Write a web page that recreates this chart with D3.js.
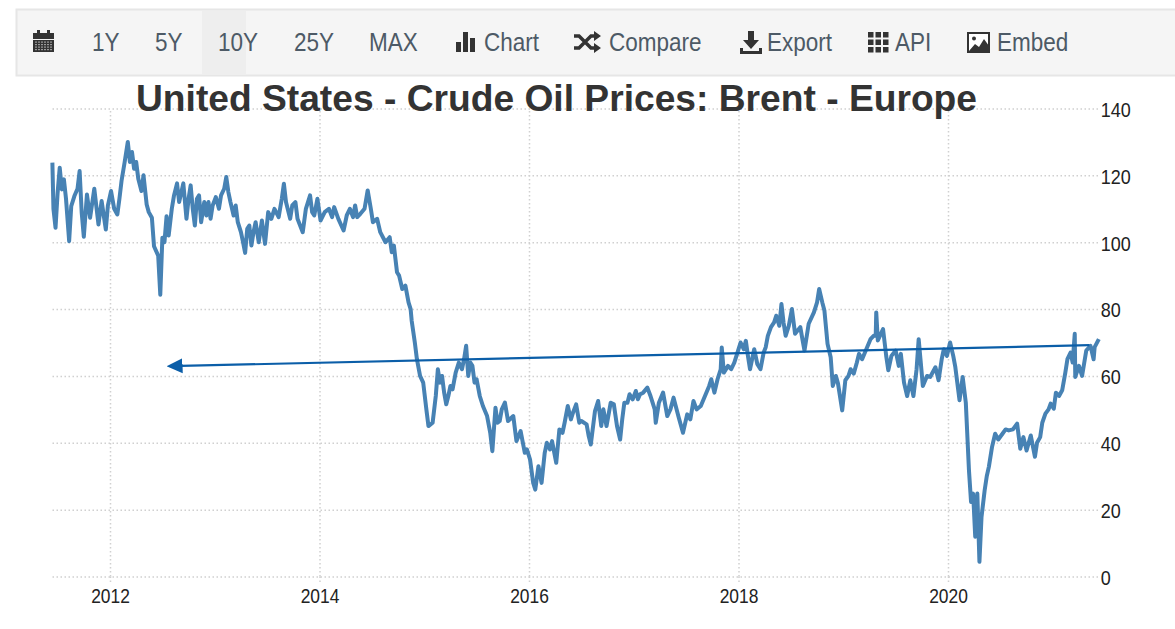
<!DOCTYPE html>
<html>
<head>
<meta charset="utf-8">
<title>Crude Oil Prices: Brent - Europe</title>
<script src="https://cdn.jsdelivr.net/npm/d3@7"></script>
<style>
  html, body { margin: 0; padding: 0; background: #fff; overflow: hidden; }
  text { font-family: "Liberation Sans", Arial, sans-serif; }
  .tick text { font-size: 20px; fill: #222; }
  .tick line { stroke: #d0d0d0; stroke-width: 1.5; stroke-dasharray: 1.5 2.5; }
  .domain { display: none; }
</style>
</head>
<body>
<div class="chart"></div>
<script>
// Values, one line per calendar year
const years = [
  2011.45,2011.46,2011.48,2011.50,2011.52,2011.54,2011.56,2011.58,2011.61,2011.63,2011.66,2011.69,2011.71,2011.73,2011.75,2011.78,2011.81,2011.85,2011.89,2011.92,2011.96,2011.98,
  2012.01,2012.04,2012.07,2012.09,2012.11,2012.14,2012.17,2012.19,2012.21,2012.23,2012.25,2012.27,2012.30,2012.32,2012.35,2012.37,2012.40,2012.42,2012.46,2012.48,2012.50,2012.52,2012.54,2012.56,2012.59,2012.61,2012.64,2012.66,2012.70,2012.73,2012.75,2012.77,2012.79,2012.81,2012.83,2012.85,2012.87,2012.90,2012.92,2012.94,2012.96,2012.98,
  2013.01,2013.04,2013.06,2013.09,2013.11,2013.13,2013.15,2013.18,2013.20,2013.22,2013.25,2013.27,2013.29,2013.31,2013.33,2013.35,2013.37,2013.39,2013.42,2013.45,2013.48,2013.51,2013.54,2013.57,2013.61,2013.64,2013.66,2013.68,2013.72,2013.74,2013.77,2013.79,2013.84,2013.87,2013.91,2013.93,2013.95,2013.98,
  2014.01,2014.05,2014.09,2014.12,2014.14,2014.18,2014.23,2014.26,2014.29,2014.32,2014.34,2014.36,2014.39,2014.43,2014.46,2014.49,2014.51,2014.55,2014.58,2014.63,2014.67,2014.69,2014.71,2014.74,2014.76,2014.79,2014.82,2014.85,2014.87,2014.88,2014.91,2014.93,2014.96,2014.99,
  2015.02,2015.04,2015.08,2015.11,2015.13,2015.15,2015.17,2015.19,2015.21,2015.23,2015.25,2015.27,2015.30,2015.33,2015.36,2015.38,2015.40,2015.42,2015.44,2015.46,2015.48,2015.50,2015.53,2015.56,2015.60,2015.63,2015.65,2015.68,2015.70,2015.72,2015.74,2015.77,2015.80,2015.85,2015.88,2015.92,2015.96,2015.98,
  2016.01,2016.04,2016.06,2016.09,2016.12,2016.15,2016.17,2016.20,2016.22,2016.26,2016.29,2016.32,2016.34,2016.37,2016.40,2016.42,2016.45,2016.48,2016.50,2016.55,2016.57,2016.59,2016.63,2016.66,2016.69,2016.71,2016.74,2016.78,2016.81,2016.84,2016.87,2016.89,2016.91,2016.94,2016.96,2016.99,
  2017.02,2017.04,2017.06,2017.09,2017.13,2017.16,2017.18,2017.20,2017.21,2017.24,2017.28,2017.32,2017.35,2017.38,2017.43,2017.47,2017.51,2017.54,2017.57,2017.60,2017.64,2017.68,2017.72,2017.74,2017.77,2017.80,2017.83,2017.84,2017.86,2017.90,2017.93,2017.96,2017.99,
  2018.02,2018.05,2018.07,2018.09,2018.11,2018.15,2018.18,2018.21,2018.24,2018.26,2018.28,2018.31,2018.34,2018.36,2018.39,2018.41,2018.43,2018.45,2018.48,2018.51,2018.54,2018.59,2018.61,2018.63,2018.67,2018.72,2018.75,2018.77,2018.80,2018.82,2018.85,2018.88,2018.90,2018.93,2018.95,2018.99,
  2019.02,2019.05,2019.07,2019.10,2019.13,2019.15,2019.18,2019.22,2019.26,2019.29,2019.31,2019.315,2019.33,2019.35,2019.38,2019.41,2019.43,2019.46,2019.50,2019.53,2019.55,2019.58,2019.61,2019.64,2019.67,2019.70,2019.72,2019.76,2019.80,2019.83,2019.88,2019.91,2019.94,2019.96,2019.99,
  2020.02,2020.05,2020.07,2020.11,2020.14,2020.17,2020.20,2020.22,2020.24,2020.26,2020.28,2020.30,2020.32,2020.35,2020.37,2020.39,2020.42,2020.45,2020.48,2020.52,2020.55,2020.58,2020.62,2020.66,2020.69,2020.72,2020.75,2020.79,2020.83,2020.85,2020.88,2020.90,2020.93,2020.96,2020.98,
  2021.01,2021.03,2021.06,2021.09,2021.12,2021.14,2021.17,2021.19,2021.21,2021.215,2021.25,2021.28,2021.32,2021.36,2021.39,2021.40,2021.44
];
const prices = [
  123.8,110,104.3,114.8,122.3,115.8,118.8,113,100.3,110.8,113.8,116,121.3,108.8,101.6,114.3,107.3,116,105.3,112.3,103.8,111,
  115.3,110,108.3,113,118.3,124,130,124,127,122,124,119,115.3,120,111.3,109,107.3,98.8,96,84.3,101.3,100,107.8,102,110,113.8,117.6,112,117.6,107,113,117,110,105,113,114,106,112,108,112,107,111,
  113.5,110,114,116,119.5,115,112,108,111,106,103,100,96.8,104,105,99,103,106,100,106.5,99.5,109,107,110,107.5,113,117.5,112,107,111,112,107,103,110,114,109,108,113,
  106.5,109,110,107.5,110.5,107,103.5,108,110,107.5,111,107.5,108.5,110,115.5,110,106,107,103,100,101.5,97,99,91,90,86,87,82,80,76.5,70,65,60,58,
  50,45,46,54,62,58,60,55,51.5,54,57,56,61,64,62,65,69,60,64,63,58,59,54,51,48,43,37.5,50.5,46,46.5,50,52,46.5,48,40.5,43.5,37,38,
  35,28,26,33,28,37,40,38,40.5,34,44,43,46,51,47,49,51.5,46,46.5,45.5,42,39.5,49.5,52.5,45,50,45,52,51.5,45,41,47,52,52,54.5,53,
  55.5,53,54.5,55,56.5,54,52,50,46,52,55,48,50,53.5,47.5,43,48.5,47,52.5,50,51,54,57,59,55,59,62,68.5,61,63,62,64,67,
  70,68,70.5,66,62,68,63.5,62,67,68.6,72,74.6,76,78,75,81.5,76,72,75,80,72.6,74.6,71,67.6,75.6,79,82,86,82,79.6,69.6,65.6,57,60,57.7,49.7,
  58.7,60,62,60.7,64,66.6,65,68,71,72,72,79,70.6,72,74,66,61.7,66,67.6,63,66.6,58,54,58.7,54,62,71,57,60,59.7,62.6,58.7,65,68,66,
  70,66,62.6,52.7,59.7,52,31.8,22.3,24.8,11.9,24.8,4.4,17.8,25.8,30,32.8,38.7,42.7,41,42.7,44,43.7,44,45.7,38.2,41.7,37.7,42.2,35.8,40,41.7,46,48.7,50,51.7,
  50.2,55,54,55.7,61,65,67,64,72.6,59.7,63,60,67.6,69,65,68.6,71
];
const yearTicks = [2012, 2014, 2016, 2018, 2020];
const priceTicks = [0, 20, 40, 60, 80, 100, 120, 140];
const arrowYears = [2021.35, 2012.54];
const arrowPrices = [69.2, 63];
const rangeLabels = ["1Y", "5Y", "10Y", "25Y", "MAX"];
const toolLabels = ["Chart", "Compare", "Export", "API", "Embed"];

const width = 1175, height = 629;
const plot = { left: 52, right: 1098, top: 108.5, bottom: 576.5 };

const svg = d3.select(".chart")
  .append("svg")
  .attr("width", width)
  .attr("height", height)
  .style("display", "block");

// 2012 sits at x=110, 2020 at x=948
const x = d3.scaleLinear().domain([2012, 2020]).range([110, 948]);
const y = d3.scaleLinear().domain([0, 140]).range([plot.bottom, plot.top]);

drawAxes();
drawLine();
drawArrow();
drawToolbar();
drawTitle();

//Grid lines come from the axis ticks
function drawAxes() {
  svg.append("g")
    .attr("transform", "translate(0," + plot.bottom + ")")
    .call(d3.axisBottom(x).tickValues(yearTicks).tickFormat(d3.format("d"))
      .tickSize(-(plot.bottom - plot.top)).tickPadding(12))
    .call(function (g) {
      g.selectAll(".tick").append("line").attr("y2", 7);
      g.selectAll("text").attr("transform", "scale(0.87,1)");
    });

  svg.append("g")
    .attr("transform", "translate(" + plot.right + ",0)")
    .call(d3.axisRight(y).tickValues(priceTicks)
      .tickSize(-(plot.right - plot.left)).tickPadding(3))
    .call(function (g) {
      g.selectAll("text").attr("transform", "translate(0,1.5) scale(0.9,1)");
    });
}

function drawLine() {
  svg.append("defs").append("filter")
    .attr("id", "soft")
    .append("feGaussianBlur")
    .attr("stdDeviation", 0.5);

  const line = d3.line()
    .x(function (d) { return x(d); })
    .y(function (d, i) { return y(prices[i]); });

  svg.append("path")
    .attr("d", line(years))
    .attr("fill", "none")
    .attr("stroke", "#4682b4")
    .attr("stroke-width", 4)
    .attr("stroke-linejoin", "round")
    .attr("filter", "url(#soft)");
}

function drawArrow() {
  svg.append("defs").append("marker")
    .attr("id", "head")
    .attr("markerUnits", "userSpaceOnUse")
    .attr("viewBox", "0 0 16 16")
    .attr("refX", 2)
    .attr("refY", 8)
    .attr("markerWidth", 16)
    .attr("markerHeight", 16)
    .attr("orient", "auto")
    .append("path")
    .attr("d", "M0,0.5L16,8L0,15.5Z")
    .attr("fill", "#0b5ea8");

  svg.append("line")
    .attr("x1", x(arrowYears[0]))
    .attr("y1", y(arrowPrices[0]))
    .attr("x2", x(arrowYears[1]) + 14)
    .attr("y2", y(arrowPrices[1]))
    .attr("stroke", "#0b5ea8")
    .attr("stroke-width", 2.2)
    .attr("marker-end", "url(#head)");
}

function drawToolbar() {
  const bar = svg.append("g");

  bar.append("rect")
    .attr("x", 16.5).attr("y", 9.5)
    .attr("width", 1170).attr("height", 66)
    .attr("fill", "#f5f5f5")
    .attr("stroke", "#e6e6e6")
    .attr("stroke-width", 2);

  bar.append("rect")
    .attr("x", 202).attr("y", 10.5)
    .attr("width", 44).attr("height", 64)
    .attr("fill", "#eeeeee");

  // text is squeezed a little horizontally in the original screenshot
  const rangeX = [92, 155, 218, 294, 369];
  const toolX = [484, 609, 767, 895, 997];
  const squeezed = function (sel, label, px) {
    sel.append("text")
      .attr("transform", "translate(" + px + ",51) scale(0.9,1)")
      .attr("font-size", 25)
      .attr("fill", "#4d5a66")
      .text(label);
  };
  rangeLabels.forEach(function (d, i) { squeezed(bar, d, rangeX[i]); });
  toolLabels.forEach(function (d, i) { squeezed(bar, d, toolX[i]); });

  const ink = "#333333";

  // calendar
  const cal = bar.append("g").attr("fill", ink);
  cal.append("rect").attr("x", 33).attr("y", 33).attr("width", 21).attr("height", 6);
  cal.append("rect").attr("x", 37).attr("y", 30).attr("width", 3).attr("height", 4);
  cal.append("rect").attr("x", 47).attr("y", 30).attr("width", 3).attr("height", 4);
  cal.append("rect").attr("x", 33).attr("y", 40).attr("width", 21).attr("height", 12);
  d3.range(4).forEach(function (r) {
    d3.range(6).forEach(function (c) {
      cal.append("rect").attr("x", 35 + c * 3).attr("y", 41.5 + r * 2.5)
        .attr("width", 2).attr("height", 1.2).attr("fill", "#9a9a9a");
    });
  });

  // bars
  bar.append("rect").attr("x", 456).attr("y", 42).attr("width", 5).attr("height", 10).attr("fill", ink);
  bar.append("rect").attr("x", 463).attr("y", 32).attr("width", 5).attr("height", 20).attr("fill", ink);
  bar.append("rect").attr("x", 470).attr("y", 38).attr("width", 5).attr("height", 14).attr("fill", ink);

  // shuffle
  bar.append("path")
    .attr("d", "M574,36h5l12,12h4M574,48h5l12,-12h4")
    .attr("fill", "none").attr("stroke", ink).attr("stroke-width", 3.5);
  bar.append("path").attr("d", "M594,31l7,5l-7,5ZM594,43l7,5l-7,5Z").attr("fill", ink);

  // download
  bar.append("path")
    .attr("d", "M748,31h6v9h5l-8,9l-8,-9h5ZM740,48h3v3h16v-3h3v6h-22Z")
    .attr("fill", ink);

  // grid
  d3.range(3).forEach(function (r) {
    d3.range(3).forEach(function (c) {
      bar.append("rect").attr("x", 868 + c * 7.5).attr("y", 32 + r * 7.5)
        .attr("width", 5.5).attr("height", 5.5).attr("fill", ink);
    });
  });

  // picture
  bar.append("rect").attr("x", 968).attr("y", 33).attr("width", 21).attr("height", 19)
    .attr("fill", "#fff").attr("stroke", ink).attr("stroke-width", 2);
  bar.append("path").attr("d", "M969,51l6,-7l4,3l5,-8l5,7v5Z").attr("fill", ink);
  bar.append("circle").attr("cx", 974).attr("cy", 38.5).attr("r", 2).attr("fill", ink);
}

function drawTitle() {
  svg.append("text")
    .attr("x", 556.5)
    .attr("y", 111)
    .attr("text-anchor", "middle")
    .attr("font-size", 37.2)
    .attr("font-weight", "bold")
    .attr("fill", "#333333")
    .text("United States - Crude Oil Prices: Brent - Europe");
}
</script>
</body>
</html>
